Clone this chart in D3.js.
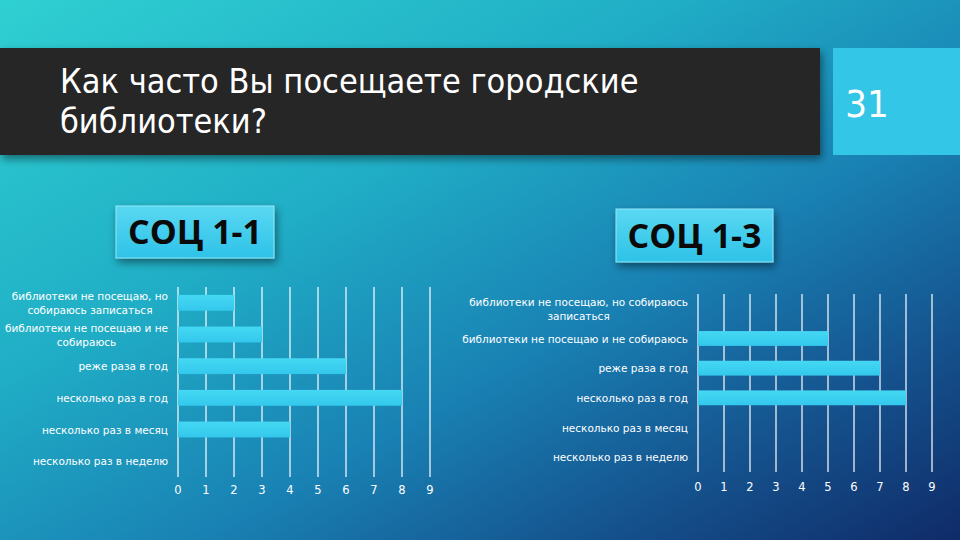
<!DOCTYPE html>
<html><head><meta charset="utf-8">
<script src="https://cdn.jsdelivr.net/npm/d3@7"></script>
<style>html,body{margin:0;padding:0;background:#111;}svg{display:block}</style>
</head><body>
<svg id="c" width="960" height="540"></svg>
<script>
// ---- data ----
const titleLines = ["Как часто Вы посещаете городские", "библиотеки?"];
const slideNumber = "31";
const groupNames = ["СОЦ 1-1", "СОЦ 1-3"];
const categories = [
  "библиотеки не посещаю, но собираюсь записаться",
  "библиотеки не посещаю и не собираюсь",
  "реже раза в год",
  "несколько раз в год",
  "несколько раз в месяц",
  "несколько раз в неделю"
];
const labelsLeft = [
  ["библиотеки не посещаю, но", "собираюсь записаться"],
  ["библиотеки не посещаю и не", "собираюсь"],
  ["реже раза в год"], ["несколько раз в год"], ["несколько раз в месяц"], ["несколько раз в неделю"]
];
const labelsRight = [
  ["библиотеки не посещаю, но собираюсь", "записаться"],
  ["библиотеки не посещаю и не собираюсь"],
  ["реже раза в год"], ["несколько раз в год"], ["несколько раз в месяц"], ["несколько раз в неделю"]
];
const valuesLeft = [2, 3, 6, 8, 4, 0];
const valuesRight = [0, 5, 7, 8, 0, 0];
const xTicks = [0, 1, 2, 3, 4, 5, 6, 7, 8, 9];

// ---- drawing ----
const svg = d3.select("#c");
const defs = svg.append("defs");
const bg = defs.append("linearGradient").attr("id", "bg")
  .attr("x1", 0).attr("y1", 0).attr("x2", 1).attr("y2", 1);
[[0, "#2fd0d2"], [0.35, "#20aec6"], [0.6, "#1982b4"], [0.8, "#15548f"], [1, "#0f2b68"]]
  .forEach(([o, c]) => bg.append("stop").attr("offset", o).attr("stop-color", c));
const boxG = defs.append("linearGradient").attr("id", "boxg").attr("x1", 0).attr("y1", 0).attr("x2", 0).attr("y2", 1);
boxG.append("stop").attr("offset", 0).attr("stop-color", "#5ad8f2");
boxG.append("stop").attr("offset", 1).attr("stop-color", "#2ec2e8");
const barG = defs.append("linearGradient").attr("id", "barg").attr("x1", 0).attr("y1", 0).attr("x2", 0).attr("y2", 1);
barG.append("stop").attr("offset", 0).attr("stop-color", "#45d8f4");
barG.append("stop").attr("offset", 1).attr("stop-color", "#33c8ec");
const sh = defs.append("filter").attr("id", "sh").attr("x", "-10%").attr("y", "-20%").attr("width", "130%").attr("height", "160%");
sh.append("feDropShadow").attr("dx", 2).attr("dy", 4).attr("stdDeviation", 4).attr("flood-color", "#000").attr("flood-opacity", 0.45);

svg.append("rect").attr("width", 960).attr("height", 540).attr("fill", "url(#bg)");

// title bar
svg.append("rect").attr("x", 0).attr("y", 48).attr("width", 820).attr("height", 107)
  .attr("fill", "#262626").attr("filter", "url(#sh)");
svg.append("rect").attr("x", 833).attr("y", 48).attr("width", 127).attr("height", 107)
  .attr("fill", "#33c6e6");
svg.selectAll("text.title").data(titleLines).join("text").attr("class", "title")
  .attr("x", 60).attr("y", (d, i) => 93 + i * 40)
  .attr("fill", "#fff").attr("font-family", "DejaVu Sans Condensed, DejaVu Sans")
  .attr("font-size", 34).text(d => d);
svg.append("text").attr("x", 867).attr("y", 117).attr("text-anchor", "middle")
  .attr("fill", "#fff").attr("font-family", "DejaVu Sans Condensed, DejaVu Sans")
  .attr("font-size", 38).text(slideNumber);

// group boxes
const boxes = [{x: 116, y: 206, w: 158, h: 52}, {x: 616, y: 209, w: 157, h: 53}];
boxes.forEach((b, i) => {
  svg.append("rect").attr("x", b.x).attr("y", b.y).attr("width", b.w).attr("height", b.h)
    .attr("fill", "url(#boxg)").attr("stroke", "#8fe6f7").attr("stroke-width", 1).attr("filter", "url(#sh)");
  svg.append("text").attr("x", b.x + b.w / 2).attr("y", b.y + b.h / 2 + 12).attr("text-anchor", "middle")
    .attr("fill", "#0a0a0a").attr("font-family", "Open Sans, DejaVu Sans").attr("font-weight", "bold")
    .attr("font-size", 34).text(groupNames[i]);
});

function chart(values, labels, x0, x1, y0, y1, tickY) {
  const g = svg.append("g");
  const x = d3.scaleLinear().domain([0, 9]).range([x0, x1]);
  const y = d3.scaleBand().domain(categories).range([y0, y1]).paddingInner(0.5).paddingOuter(0.25);
  // grid
  g.selectAll("line.grid").data(xTicks).join("line")
    .attr("x1", d => x(d)).attr("x2", d => x(d)).attr("y1", y0).attr("y2", y1)
    .attr("stroke", "#ffffff").attr("stroke-width", 1.2);
  // bars
  g.selectAll("rect.bar").data(values).join("rect")
    .attr("x", x(0)).attr("y", (d, i) => y(categories[i]))
    .attr("width", d => x(d) - x(0)).attr("height", y.bandwidth())
    .attr("fill", "url(#barg)");
  // x tick labels
  g.selectAll("text.tick").data(xTicks).join("text")
    .attr("x", d => x(d)).attr("y", tickY).attr("text-anchor", "middle")
    .attr("fill", "#fff").attr("font-family", "DejaVu Sans").attr("font-size", 11.5).text(d => d);
  // category labels
  const right = x0 - 10;
  labels.forEach((lines, i) => {
    const cy = y(categories[i]) + y.bandwidth() / 2;
    const lh = 14;
    const tg = g.append("g");
    const ts = lines.map((l, j) => tg.append("text")
      .attr("y", cy + (j - (lines.length - 1) / 2) * lh + 4)
      .attr("fill", "#fff").attr("font-family", "DejaVu Sans").attr("font-size", 10.5).text(l));
    const maxW = d3.max(ts, t => t.node().getComputedTextLength());
    ts.forEach(t => t.attr("x", right - maxW / 2).attr("text-anchor", "middle"));
  });
}
chart(valuesLeft, labelsLeft, 178, 430, 287, 477, 494);
chart(valuesRight, labelsRight, 698, 932, 294, 472, 491);
</script>
</body></html>
